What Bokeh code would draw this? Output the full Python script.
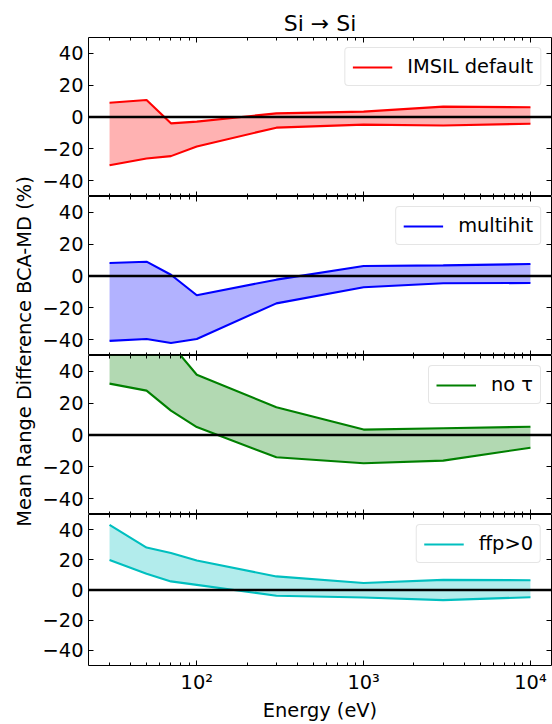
import math
from bokeh.plotting import figure
from bokeh.models import (Range1d, FixedTicker, CustomJSTickFormatter, LogAxis, LinearAxis,
                          Span, Legend, LegendItem, Label, ColumnDataSource)
from bokeh.layouts import row, column
from bokeh.embed import file_html
from bokeh.resources import INLINE

# ---------------- data ----------------
energy = [30, 50, 70, 100, 300, 1000, 3000, 10000]

imsil_upper = [9.0, 10.7, -4.0, -2.9, 2.3, 3.4, 6.5, 6.1]
imsil_lower = [-30.3, -26.1, -24.6, -18.5, -6.7, -4.8, -5.3, -4.2]

multihit_upper = [8.2, 9.0, 0.8, -12.1, -2.3, 6.3, 6.7, 7.5]
multihit_lower = [-40.8, -39.6, -42.1, -39.6, -17.2, -7.1, -4.6, -4.4]

notau_upper = [70.0, 66.0, 57.3, 37.9, 17.4, 3.4, 4.2, 5.2]
notau_lower = [32.3, 27.9, 15.3, 5.0, -14.0, -17.8, -16.1, -8.0]

ffp_upper = [43.1, 28.1, 24.5, 19.5, 9.0, 4.6, 6.7, 6.5]
ffp_lower = [19.9, 10.7, 5.7, 3.4, -3.8, -5.0, -6.7, -4.8]

series_names = ["IMSIL default", "multihit", "no τ", "ffp>0"]
series_colors = ["#ff0000", "#0000ff", "#008000", "#00bfbf"]

x_major_ticks = [100, 1000, 10000]
x_tick_labels = ["10²", "10³", "10⁴"]
x_minor_ticks = [20, 30, 40, 50, 60, 70, 80, 90,
                 200, 300, 400, 500, 600, 700, 800, 900,
                 2000, 3000, 4000, 5000, 6000, 7000, 8000, 9000, 20000]
y_ticks = [-40, -20, 0, 20, 40]
y_tick_labels = ["−40", "−20", "0", "20", "40"]

title_text = "Si → Si"
x_label = "Energy (eV)"
y_label = "Mean Range Difference BCA-MD (%)"

# ---------------- layout constants ----------------
FONT = "DejaVu Sans"
FS = "19.4px"
LABEL_W = 36
PANEL_W = 552 - LABEL_W
FRAME_H = 159
TOP_BORDER = 37
BOTTOM_BORDER = 51
LEFT_BORDER = 52
RIGHT_BORDER = 1

lo = math.log10(min(energy))
hi = math.log10(max(energy))
pad = 0.05 * (hi - lo)
x_range = Range1d(10 ** (lo - pad), 10 ** (hi + pad))

FMT_CODE = """
const i = tvals.indexOf(tick);
return i >= 0 ? tlabs[i] : "";
"""


def style_axis(ax, show_labels):
    ax.axis_line_color = None
    ax.major_tick_in = 5
    ax.major_tick_out = 0
    ax.minor_tick_in = 3
    ax.minor_tick_out = 0
    ax.major_tick_line_color = "black"
    ax.minor_tick_line_color = "black"
    ax.major_tick_line_width = 1
    ax.minor_tick_line_width = 1
    ax.major_label_text_font = FONT
    ax.major_label_text_font_size = FS
    if show_labels:
        ax.major_label_text_color = "black"
        ax.major_label_standoff = 5
    else:
        ax.major_label_text_color = None
        ax.major_label_standoff = 0


def x_axis(show_labels):
    ax = LogAxis(ticker=FixedTicker(ticks=x_major_ticks, minor_ticks=x_minor_ticks),
                 formatter=CustomJSTickFormatter(args=dict(tvals=x_major_ticks, tlabs=x_tick_labels),
                                                 code=FMT_CODE))
    style_axis(ax, show_labels)
    return ax


def y_axis(show_labels):
    ax = LinearAxis(ticker=FixedTicker(ticks=y_ticks, minor_ticks=[]),
                    formatter=CustomJSTickFormatter(args=dict(tvals=y_ticks, tlabs=y_tick_labels),
                                                    code=FMT_CODE))
    style_axis(ax, show_labels)
    return ax


def make_panel(upper, lower, name, color, top, bottom, title=None, xlabel=None):
    p = figure(width=PANEL_W, height=FRAME_H + top + bottom,
               x_axis_type="log", x_range=x_range, y_range=Range1d(-50, 50),
               x_axis_location=None, y_axis_location=None,
               min_border_left=LEFT_BORDER, min_border_right=RIGHT_BORDER,
               min_border_top=top, min_border_bottom=bottom,
               output_backend="svg", toolbar_location=None, title=title)
    p.background_fill_color = "white"
    p.border_fill_color = "white"
    p.outline_line_color = "black"
    p.outline_line_width = 1
    p.grid.visible = False

    if title:
        p.title.align = "center"
        p.title.text_font = FONT
        p.title.text_font_size = "22px"
        p.title.text_font_style = "normal"
        p.title.text_color = "black"
        p.title.standoff = 4

    bx = x_axis(xlabel is not None)
    if xlabel:
        bx.axis_label = xlabel
        bx.axis_label_text_font = FONT
        bx.axis_label_text_font_size = FS
        bx.axis_label_text_font_style = "normal"
        bx.axis_label_text_color = "black"
        bx.axis_label_standoff = 2
    p.add_layout(bx, "below")
    p.add_layout(x_axis(False), "above")
    p.add_layout(y_axis(True), "left")
    p.add_layout(y_axis(False), "right")

    src = ColumnDataSource(dict(x=energy, up=upper, lo=lower))
    p.varea(x="x", y1="lo", y2="up", source=src, fill_color=color, fill_alpha=0.3)
    r_up = p.line(x="x", y="up", source=src, line_color=color, line_width=2.1)
    p.line(x="x", y="lo", source=src, line_color=color, line_width=2.1)
    p.add_layout(Span(location=0, dimension="width", line_color="black", line_width=2.5))

    leg = Legend(items=[LegendItem(label=name, renderers=[r_up])], location="top_right")
    leg.margin = 10
    leg.padding = 7
    leg.spacing = 0
    leg.glyph_width = 40
    leg.glyph_height = 20
    leg.label_standoff = 15
    leg.label_text_font = FONT
    leg.label_text_font_size = FS
    leg.label_text_color = "black"
    leg.border_line_color = "#cccccc"
    leg.border_line_width = 1
    leg.background_fill_color = "white"
    leg.background_fill_alpha = 0.8
    if "border_radius" in Legend.properties():
        leg.border_radius = 4
    p.add_layout(leg)
    return p


uppers = [imsil_upper, multihit_upper, notau_upper, ffp_upper]
lowers = [imsil_lower, multihit_lower, notau_lower, ffp_lower]

panels = []
for i in range(4):
    top = TOP_BORDER if i == 0 else 0
    bottom = BOTTOM_BORDER if i == 3 else 0
    panels.append(make_panel(uppers[i], lowers[i], series_names[i], series_colors[i], top, bottom,
                             title=title_text if i == 0 else None,
                             xlabel=x_label if i == 3 else None))

total_h = sum(pp.height for pp in panels)
lab = figure(width=LABEL_W, height=total_h, x_range=Range1d(0, LABEL_W), y_range=Range1d(0, total_h),
             x_axis_location=None, y_axis_location=None, min_border=0,
             output_backend="svg", toolbar_location=None)
lab.outline_line_color = None
lab.grid.visible = False
lab.border_fill_color = "white"
lab.add_layout(Label(x=24, y=total_h - 351, text=y_label, angle=math.pi / 2,
                     text_align="center", text_baseline="middle",
                     text_font=FONT, text_font_size=FS, text_color="black"))

layout = row(lab, column(*panels))
open("out.html", "w").write(file_html(layout, INLINE))
